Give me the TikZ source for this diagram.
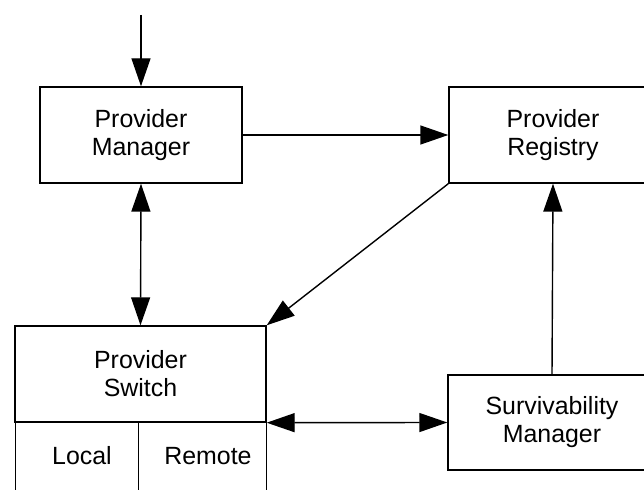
\documentclass[tikz,border=0pt]{standalone}
\usepackage{fontspec}
\setmainfont{Liberation Sans}
\usetikzlibrary{arrows.meta}
\begin{document}
\begin{tikzpicture}[x=1bp,y=-1bp,
  box/.style={draw, line width=1.4bp, inner sep=0pt, align=center,
    font=\fontsize{25}{28}\selectfont},
  conn/.style={line width=1.4bp},
  tip/.style={-{Triangle[length=28bp,width=19bp]}},
  tips/.style={{Triangle[length=28bp,width=19bp]}-{Triangle[length=28bp,width=19bp]}}]
\useasboundingbox (0,0) rectangle (644,490);
\clip (0,0) rectangle (644,490);
\node[box, minimum width=202bp, minimum height=96bp] (mgr) at (141,135) {Provider\\Manager};
\node[box, minimum width=208bp, minimum height=96bp] (reg) at (553,135) {Provider\\Registry};
\node[box, minimum width=251bp, minimum height=96bp] (sw) at (140.5,374) {Provider\\Switch};
\node[box, minimum width=123bp, minimum height=90bp, anchor=north west] (loc) at (15,422) {};
\node[box, minimum width=128bp, minimum height=90bp, anchor=north west] (rem) at (138,422) {};
\node[font=\fontsize{25}{28}\selectfont] (loct) at (82,456) {Local};
\node[font=\fontsize{25}{28}\selectfont] (remt) at (208,456) {Remote};
\node[box, minimum width=208bp, minimum height=95bp] (surv) at (552,422.5) {Survivability\\Manager};
\coordinate (in) at (141,15);
\draw[conn,tip] (in) -- (mgr.north);
\draw[conn,tip] (mgr.east) -- (reg.west);
\draw[conn,tips] (mgr.south) -- (sw.north);
\draw[conn,tip] (reg.south west) -- (sw.north east);
\draw[conn,tip] (surv.north) -- (reg.south);
\draw[conn,tips] (sw.south east) -- (surv.west);
\end{tikzpicture}
\end{document}
